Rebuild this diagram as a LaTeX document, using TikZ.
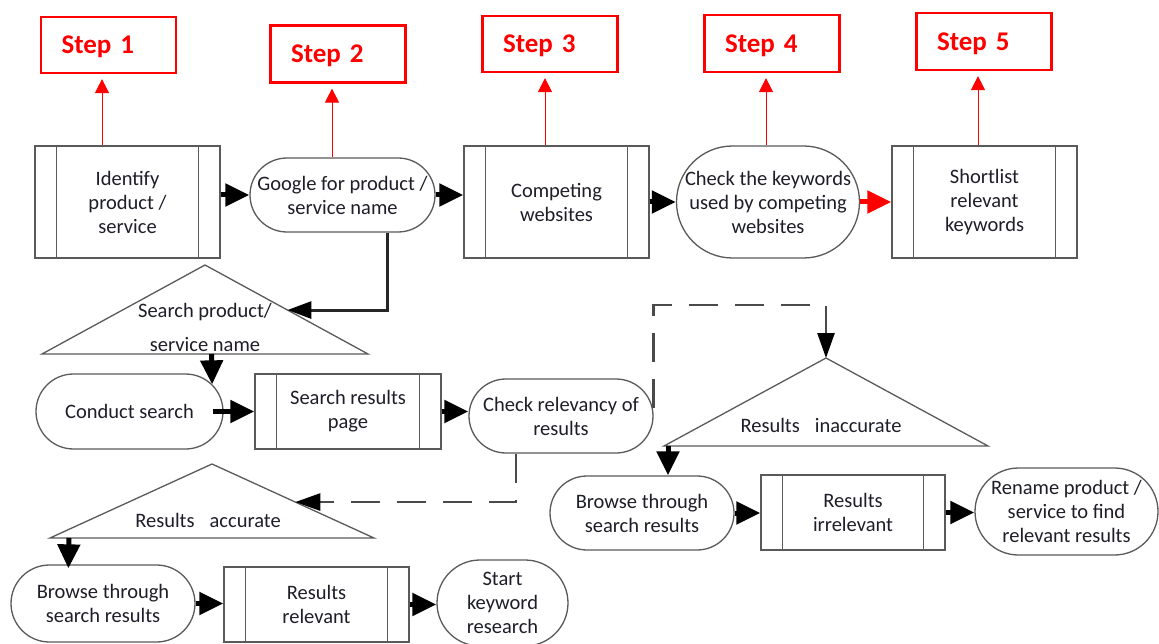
\documentclass[tikz,border=0pt]{standalone}
\usepackage{fontspec}
\setmainfont{Carlito}
\usetikzlibrary{arrows.meta,calc}
\definecolor{gr}{HTML}{5A5A5A}
\definecolor{dg}{HTML}{4A4A4A}
\definecolor{tx}{HTML}{1E1E28}
\definecolor{rd}{HTML}{FF0000}
\begin{document}
\begin{tikzpicture}[x=1pt,y=-1pt,
  body/.style={font=\fontsize{20.5pt}{24pt}\selectfont, text=tx, align=center, inner sep=0pt},
  box/.style={body, draw=gr, line width=1.3pt, rectangle},
  stad/.style={box, rounded corners=#1},
  gline/.style={draw=gr, line width=1.3pt},
  tri/.style={draw=gr, line width=1.3pt, line join=miter},
  arr/.style={draw=black, line width=5pt, -{Triangle[length=24pt,width=22pt]}},
  tarr/.style={draw=black!85, line width=3pt, -{Triangle[length=24pt,width=17pt,color=black]}},
  rarr/.style={draw=rd, line width=1pt, -{Triangle[length=14pt,width=14pt]}, shorten >=5pt},
  darr/.style={draw=dg, line width=2.6pt, dash pattern=on 29pt off 17pt, -{Triangle[length=25pt,width=17pt,color=black]}},
  stepbox/.style={draw=rd, line width=2.2pt, text=rd, font=\fontsize{27pt}{30pt}\selectfont\bfseries,
     text width=94pt, align=left, inner xsep=20.5pt, inner ysep=0pt, text depth=0pt, minimum height=56pt}
]
\fill[white] (0,0) rectangle (1159,644);
\useasboundingbox (0,0) rectangle (1159,644);

% step boxes
\node[stepbox] (s1) at (108.5,45) {Step 1};
\node[stepbox, minimum height=57pt] (s2) at (338,54) {Step 2};
\node[stepbox] (s3) at (550,44) {Step 3};
\node[stepbox, minimum height=57pt] (s4) at (772,43.5) {Step 4};
\node[stepbox, minimum height=57pt] (s5) at (984,41.5) {Step 5};

% triangles
\coordinate (t1a) at (205,265); \coordinate (t1l) at (42,354); \coordinate (t1r) at (368,354);
\coordinate (t2a) at (826,358); \coordinate (t2l) at (664,446); \coordinate (t2r) at (988,446);
\coordinate (t3a) at (212,464); \coordinate (t3l) at (50,538); \coordinate (t3r) at (374,538);
\draw[tri] (t1a) -- (t1r) -- (t1l) -- cycle;
\draw[tri] (t2a) -- (t2r) -- (t2l) -- cycle;
\draw[tri] (t3a) -- (t3r) -- (t3l) -- cycle;
\node[body] (t1) at (205,327) {Search product/\\[10pt]service name};
\node[body] (t2) at (821,425) {Results\hspace{15pt}inaccurate};
\node[body] (t3) at (208,520) {Results\hspace{15pt}accurate};

% top row
\node[box, minimum width=185pt, minimum height=112pt] (id) at (127.5,202) {Identify\\product /\\service};
\node[stad=37pt, minimum width=185pt, minimum height=74pt] (gg) at (342.5,195) {Google for product /\\service name};
\node[box, minimum width=185pt, minimum height=112pt] (cw) at (556.5,202) {Competing\\websites};
\node[stad=56pt, minimum width=183pt, minimum height=112pt] (ck) at (768,202) {Check the keywords\\used by competing\\websites};
\node[box, minimum width=185pt, minimum height=112pt] (sl) at (984.5,202) {Shortlist\\relevant\\keywords};

% middle row
\node[stad=37.5pt, minimum width=187pt, minimum height=75pt] (cs) at (129.5,411.5) {Conduct search};
\node[box, minimum width=186pt, minimum height=75pt] (sp) at (348,411.5) {Search results\\page};
\node[stad=37pt, minimum width=184pt, minimum height=74pt] (cr) at (561,416) {Check relevancy of\\results};

% right row
\node[stad=37pt, minimum width=184pt, minimum height=74pt] (b2) at (642,513) {Browse through\\search results};
\node[box, minimum width=184pt, minimum height=75pt] (ri) at (853,512.5) {Results\\irrelevant};
\node[stad=43.5pt, minimum width=183pt, minimum height=87pt] (rn) at (1066.5,511.5) {Rename product /\\service to find\\relevant results};

% bottom row
\node[stad=38.5pt, minimum width=184pt, minimum height=77pt] (b3) at (103,603.5) {Browse through\\search results};
\node[box, minimum width=185pt, minimum height=75pt] (rr) at (316.5,604.5) {Results\\relevant};
\node[stad=43pt, minimum width=131pt, minimum height=86pt] (st) at (502.5,603) {Start\\keyword\\research};

% inner lines of process boxes
\foreach \n in {id,cw,sl,sp,ri,rr}
  \draw[gline] ([xshift=22pt]\n.north west) -- ([xshift=22pt]\n.south west)
               ([xshift=-22pt]\n.north east) -- ([xshift=-22pt]\n.south east);

% step arrows
\coordinate (a1) at ([xshift=-25.5pt]id.north);
\coordinate (a2) at ([xshift=-10.5pt]gg.north);
\coordinate (a3) at ([xshift=-11.5pt]cw.north);
\coordinate (a4) at ([xshift=-2pt]ck.north);
\coordinate (a5) at ([xshift=-6.5pt]sl.north);
\draw[rarr] (a1) -- (a1 |- s1.south);
\draw[rarr] (a2) -- (a2 |- s2.south);
\draw[rarr] (a3) -- (a3 |- s3.south);
\draw[rarr] (a4) -- (a4 |- s4.south);
\draw[rarr] (a5) -- (a5 |- s5.south);

% top row connectors
\draw[arr] (id.east |- gg.west) -- (gg.west);
\draw[arr] (gg.east) -- (gg.east -| cw.west);
\draw[arr] (cw.east |- ck.west) -- (ck.west);
\draw[arr, draw=rd] (ck.east) -- (ck.east -| sl.west);

% google -> search triangle
\coordinate (g1) at ([xshift=44.5pt]gg.south);
\draw[tarr] (g1) |- ($(t1a)!0.506!(t1r)$);
\coordinate (d1) at ($(t1l)!0.52!(t1r)$);
\draw[arr] (d1) -- ([xshift=-11.5pt,yshift=-11pt]cs.north east);

% middle row connectors
\draw[arr] ([xshift=-11pt]cs.east) -- (cs.east -| sp.west);
\draw[arr] (sp.east) -- (sp.east -| cr.west);

% dashed branches
\coordinate (c1) at ([yshift=8pt]cr.east);
\draw[darr] (c1) -- (c1 |- 0,305) -| (t2a);
\coordinate (c2) at ([xshift=-45pt]cr.south);
\draw[darr] (c2) |- ($(t3a)!0.514!(t3r)$);

% right row connectors
\coordinate (d2) at ([xshift=4pt]t2l);
\draw[arr] (d2) -- (d2 |- b2.north);
\draw[arr] (b2.east) -- (b2.east -| ri.west);
\draw[arr] (ri.east) -- (ri.east -| rn.west);

% bottom row connectors
\coordinate (d3) at ([xshift=19pt]t3l);
\draw[arr] (d3) -- ([xshift=58pt,yshift=-4pt]b3.north west);
\draw[arr] (b3.east) -- (b3.east -| rr.west);
\draw[arr] (rr.east) -- (rr.east -| st.west);
\end{tikzpicture}
\end{document}
